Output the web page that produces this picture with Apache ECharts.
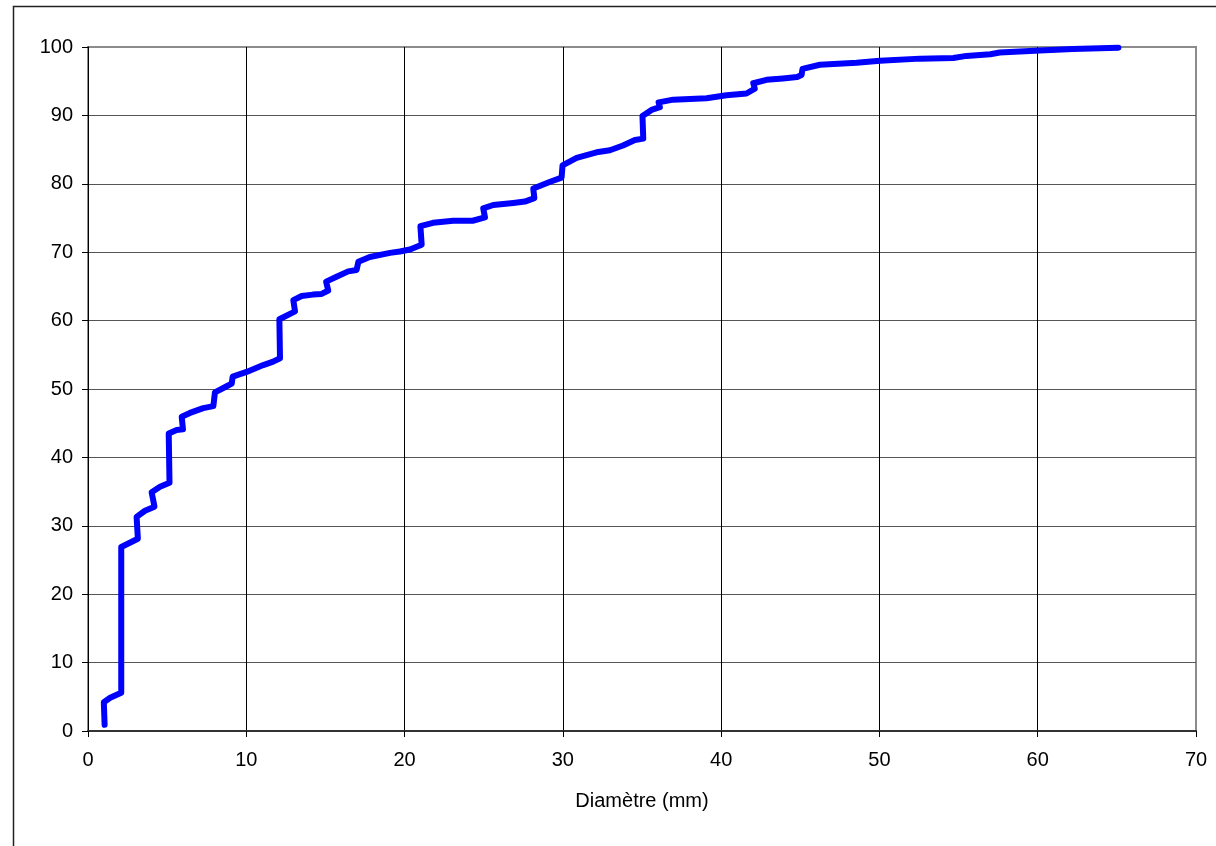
<!DOCTYPE html>
<html>
<head>
<meta charset="utf-8">
<title>Diamètre (mm)</title>
<script src="https://cdn.jsdelivr.net/npm/echarts@6/dist/echarts.min.js"></script>
<style>
  html, body { margin: 0; padding: 0; background: #ffffff; }
  #chart { width: 1216px; height: 846px; }
</style>
</head>
<body>
<div id="chart"></div>
<script>
// Cumulative percentage (%) against diameter (mm)
const diameters = [
  1.05, 1.0, 1.4, 2.1, 2.1, 3.15, 3.07, 3.6, 4.2, 4.02, 4.55, 5.15, 5.1, 5.6, 6.0, 5.92,
  6.44, 7.28, 7.92, 8.02, 8.76, 9.08, 9.14, 10.02, 11.07, 11.7, 12.13, 12.09, 13.08, 12.97,
  13.5, 14.2, 14.76, 15.18, 15.04, 15.7, 16.44, 16.97, 17.08, 17.8, 19.08, 19.7, 20.34,
  21.08, 21.0, 21.8, 23.07, 24.3, 25.08, 24.97, 25.6, 26.87, 27.6, 28.2, 28.13, 29.2,
  29.92, 29.98, 30.87, 32.13, 32.97, 33.8, 34.55, 35.08, 35.03, 35.6, 36.13, 36.05, 36.97,
  39.08, 40.34, 41.6, 42.13, 42.03, 42.87, 43.9, 44.8, 45.08, 45.14, 46.24, 48.56, 50.03,
  52.56, 54.67, 55.5, 57.0, 57.6, 60.14, 62.2, 65.1
];
const cumulative = [
  0.9, 4.2, 4.85, 5.6, 26.9, 28.1, 31.3, 32.2, 32.8, 34.9, 35.7, 36.3, 43.5, 44.0, 44.1, 45.95,
  46.5, 47.2, 47.5, 49.5, 50.4, 50.8, 51.8, 52.5, 53.5, 54.0, 54.5, 60.2, 61.35, 63.0,
  63.6, 63.8, 63.9, 64.4, 65.7, 66.4, 67.2, 67.4, 68.6, 69.3, 69.9, 70.1, 70.4,
  71.1, 73.8, 74.3, 74.6, 74.6, 75.1, 76.4, 76.9, 77.2, 77.4, 77.9, 79.3, 80.3,
  80.9, 82.7, 83.8, 84.6, 84.9, 85.6, 86.4, 86.6, 89.9, 90.8, 91.2, 91.9, 92.3,
  92.5, 92.95, 93.2, 93.9, 94.7, 95.2, 95.4, 95.6, 95.9, 96.8, 97.4, 97.7, 98.0,
  98.3, 98.4, 98.7, 98.95, 99.2, 99.5, 99.7, 99.9
];
const xAxisTitle = 'Diamètre (mm)';

const seriesData = diameters.map((d, i) => [d, cumulative[i]]);

const chart = echarts.init(document.getElementById('chart'), null, { renderer: 'canvas' });
const font = '"Liberation Sans", Arial, sans-serif';

chart.setOption({
  animation: false,
  backgroundColor: '#ffffff',
  grid: {
    left: 88, right: 20, top: 47, bottom: 115,
    show: true, borderColor: '#8c8c8c', borderWidth: 2, backgroundColor: 'transparent'
  },
  graphic: [{
    type: 'rect',
    shape: { x: 13.5, y: 6.5, width: 1400, height: 1000 },
    style: { fill: 'none', stroke: '#222222', lineWidth: 1.5 },
    silent: true, z: -1
  }],
  xAxis: {
    type: 'value', min: 0, max: 70, interval: 10,
    name: xAxisTitle, nameLocation: 'middle', nameGap: 60,
    nameTextStyle: { color: '#000', fontSize: 20, fontFamily: font },
    axisLine: { show: true, onZero: false, lineStyle: { color: '#333', width: 2 } },
    axisTick: { show: true, length: 6, lineStyle: { color: '#000', width: 1 } },
    axisLabel: { color: '#000', fontSize: 20, fontFamily: font, margin: 19 },
    splitLine: { show: true, showMinLine: false, showMaxLine: false, lineStyle: { color: '#000', width: 1 } }
  },
  yAxis: {
    type: 'value', min: 0, max: 100, interval: 10,
    axisLine: { show: true, onZero: false, lineStyle: { color: '#000', width: 1 } },
    axisTick: { show: true, length: 6, lineStyle: { color: '#000', width: 1 } },
    axisLabel: { color: '#000', fontSize: 20, fontFamily: font, margin: 15 },
    splitLine: { show: true, showMinLine: false, showMaxLine: false, lineStyle: { color: '#555', width: 1 } }
  },
  series: [{
    type: 'line',
    data: seriesData,
    showSymbol: false,
    symbol: 'none',
    smooth: false,
    lineStyle: { color: '#0000ff', width: 6, cap: 'round', join: 'round' },
    z: 5
  }]
});
</script>
</body>
</html>
